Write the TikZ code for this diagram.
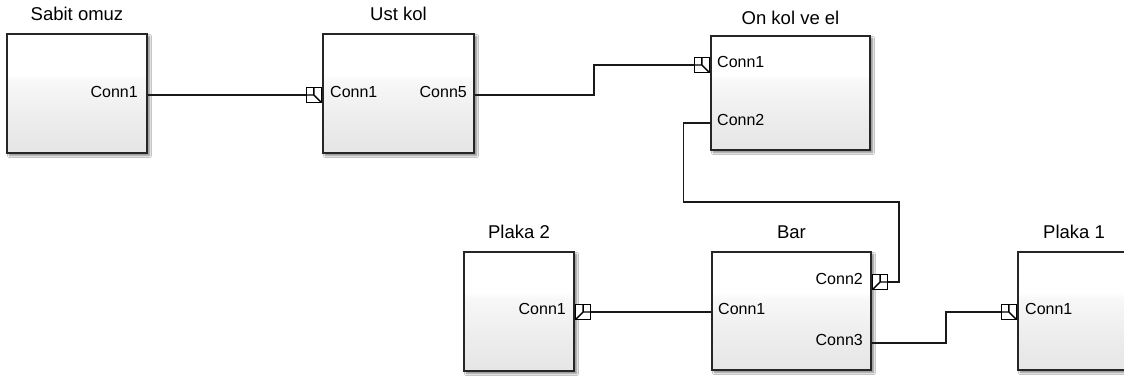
\documentclass[tikz,border=0pt]{standalone}
\usepackage{fontspec}
\setmainfont{Liberation Sans}
\usetikzlibrary{shadows.blur}

% block body: white upper part, light grey towards the bottom
\pgfdeclareverticalshading{blockfill}{100bp}{%
  color(0bp)=(black!15); color(40bp)=(black!7); color(55bp)=(black!3);
  color(58bp)=(white); color(100bp)=(white)}

\begin{document}
\begin{tikzpicture}[x=1pt,y=-1pt,
  blk/.style={draw=black!85, line width=1.8pt, shading=blockfill,
    inner sep=0pt,
    blur shadow={shadow xshift=2.5pt, shadow yshift=-2.5pt,
      shadow blur steps=6, shadow opacity=50}},
  ttl/.style={font=\fontsize{18.5}{20}\selectfont, inner sep=0pt, anchor=base},
  cn/.style={font=\fontsize{16}{17}\selectfont, inner sep=0pt},
  wire/.style={line width=1.2pt, black!90},
  port/.style={draw, fill=white, line width=1.4pt, minimum size=15pt,
    inner sep=0pt},
  lport/.style={port, path picture={
      \draw[line width=1.4pt] (path picture bounding box.center) -- (path picture bounding box.north)
        (path picture bounding box.center) -- (path picture bounding box.west)
        (path picture bounding box.center) -- (path picture bounding box.south east);}},
  rport/.style={port, path picture={
      \draw[line width=1.4pt] (path picture bounding box.center) -- (path picture bounding box.north)
        (path picture bounding box.center) -- (path picture bounding box.east)
        (path picture bounding box.center) -- (path picture bounding box.south west);}}
]
\useasboundingbox[fill=white] (0,0) rectangle (1124,377);

% ---- blocks ----
\node[blk, minimum width=140pt, minimum height=119pt] (sabit)  at (77,93.5)   {};
\node[blk, minimum width=151pt, minimum height=119pt] (ust)    at (398.5,93.5) {};
\node[blk, minimum width=159pt, minimum height=114pt] (onkol)  at (790.5,93)  {};
\node[blk, minimum width=110pt, minimum height=119pt] (plaka2) at (519,311.5)  {};
\node[blk, minimum width=159pt, minimum height=118pt] (bar)    at (791.5,311)  {};
\node[blk, minimum width=112pt, minimum height=118pt] (plaka1) at (1074,311)   {};

% ---- block titles ----
\node[ttl] (tsabit)  at ([yshift=12.5pt]sabit.north)  {Sabit omuz};
\node[ttl] (tust)    at ([yshift=12.5pt]ust.north)    {Ust kol};
\node[ttl] (tonkol)  at ([yshift=10.5pt]onkol.north)  {On kol ve el};
\node[ttl] (tplaka2) at ([yshift=12.5pt]plaka2.north) {Plaka 2};
\node[ttl] (tbar)    at ([yshift=12.5pt]bar.north)    {Bar};
\node[ttl] (tplaka1) at ([yshift=12.5pt]plaka1.north) {Plaka 1};

% ---- connection labels ----
\node[cn, anchor=mid east] (sabitC1) at (138,95)  {Conn1};
\node[cn, anchor=mid west] (ustC1)   at (330,95)  {Conn1};
\node[cn, anchor=mid east] (ustC5)   at (467,95)  {Conn5};
\node[cn, anchor=mid west] (onkolC1) at (717,65)  {Conn1};
\node[cn, anchor=mid west] (onkolC2) at (717,123) {Conn2};
\node[cn, anchor=mid east] (plaka2C1) at (566,312) {Conn1};
\node[cn, anchor=mid east] (barC2)   at (863,282) {Conn2};
\node[cn, anchor=mid west] (barC1)   at (718,312) {Conn1};
\node[cn, anchor=mid east] (barC3)   at (863,343) {Conn3};
\node[cn, anchor=mid west] (plaka1C1) at (1025,312) {Conn1};

% ---- physical port symbols ----
\node[lport, anchor=east] (ustP1)    at (ust.west |- ustC1.mid) {};
\node[lport, anchor=east] (onkolP1)  at (onkol.west |- onkolC1.mid) {};
\node[rport, anchor=west] (plaka2P1) at (plaka2.east |- plaka2C1.mid) {};
\node[rport, anchor=west] (barP2)    at (bar.east |- barC2.mid) {};
\node[lport, anchor=east] (plaka1P1) at (plaka1.west |- plaka1C1.mid) {};

% ---- connection lines ----
\coordinate (loopcorner) at (899,202);
\draw[wire] (sabit.east |- sabitC1.mid) -- (ustP1.west);
\draw[wire] (ust.east |- ustC5.mid) -- ++(119,0) |- (onkolP1.west);
\draw[wire] (onkol.west |- onkolC2.mid) -- ++(-27,0) |- (loopcorner) |- (barP2.east);
\draw[wire] (plaka2P1.east) -- (bar.west |- barC1.mid);
\draw[wire] (bar.east |- barC3.mid) -- ++(74,0) |- (plaka1P1.west);
\end{tikzpicture}
\end{document}
